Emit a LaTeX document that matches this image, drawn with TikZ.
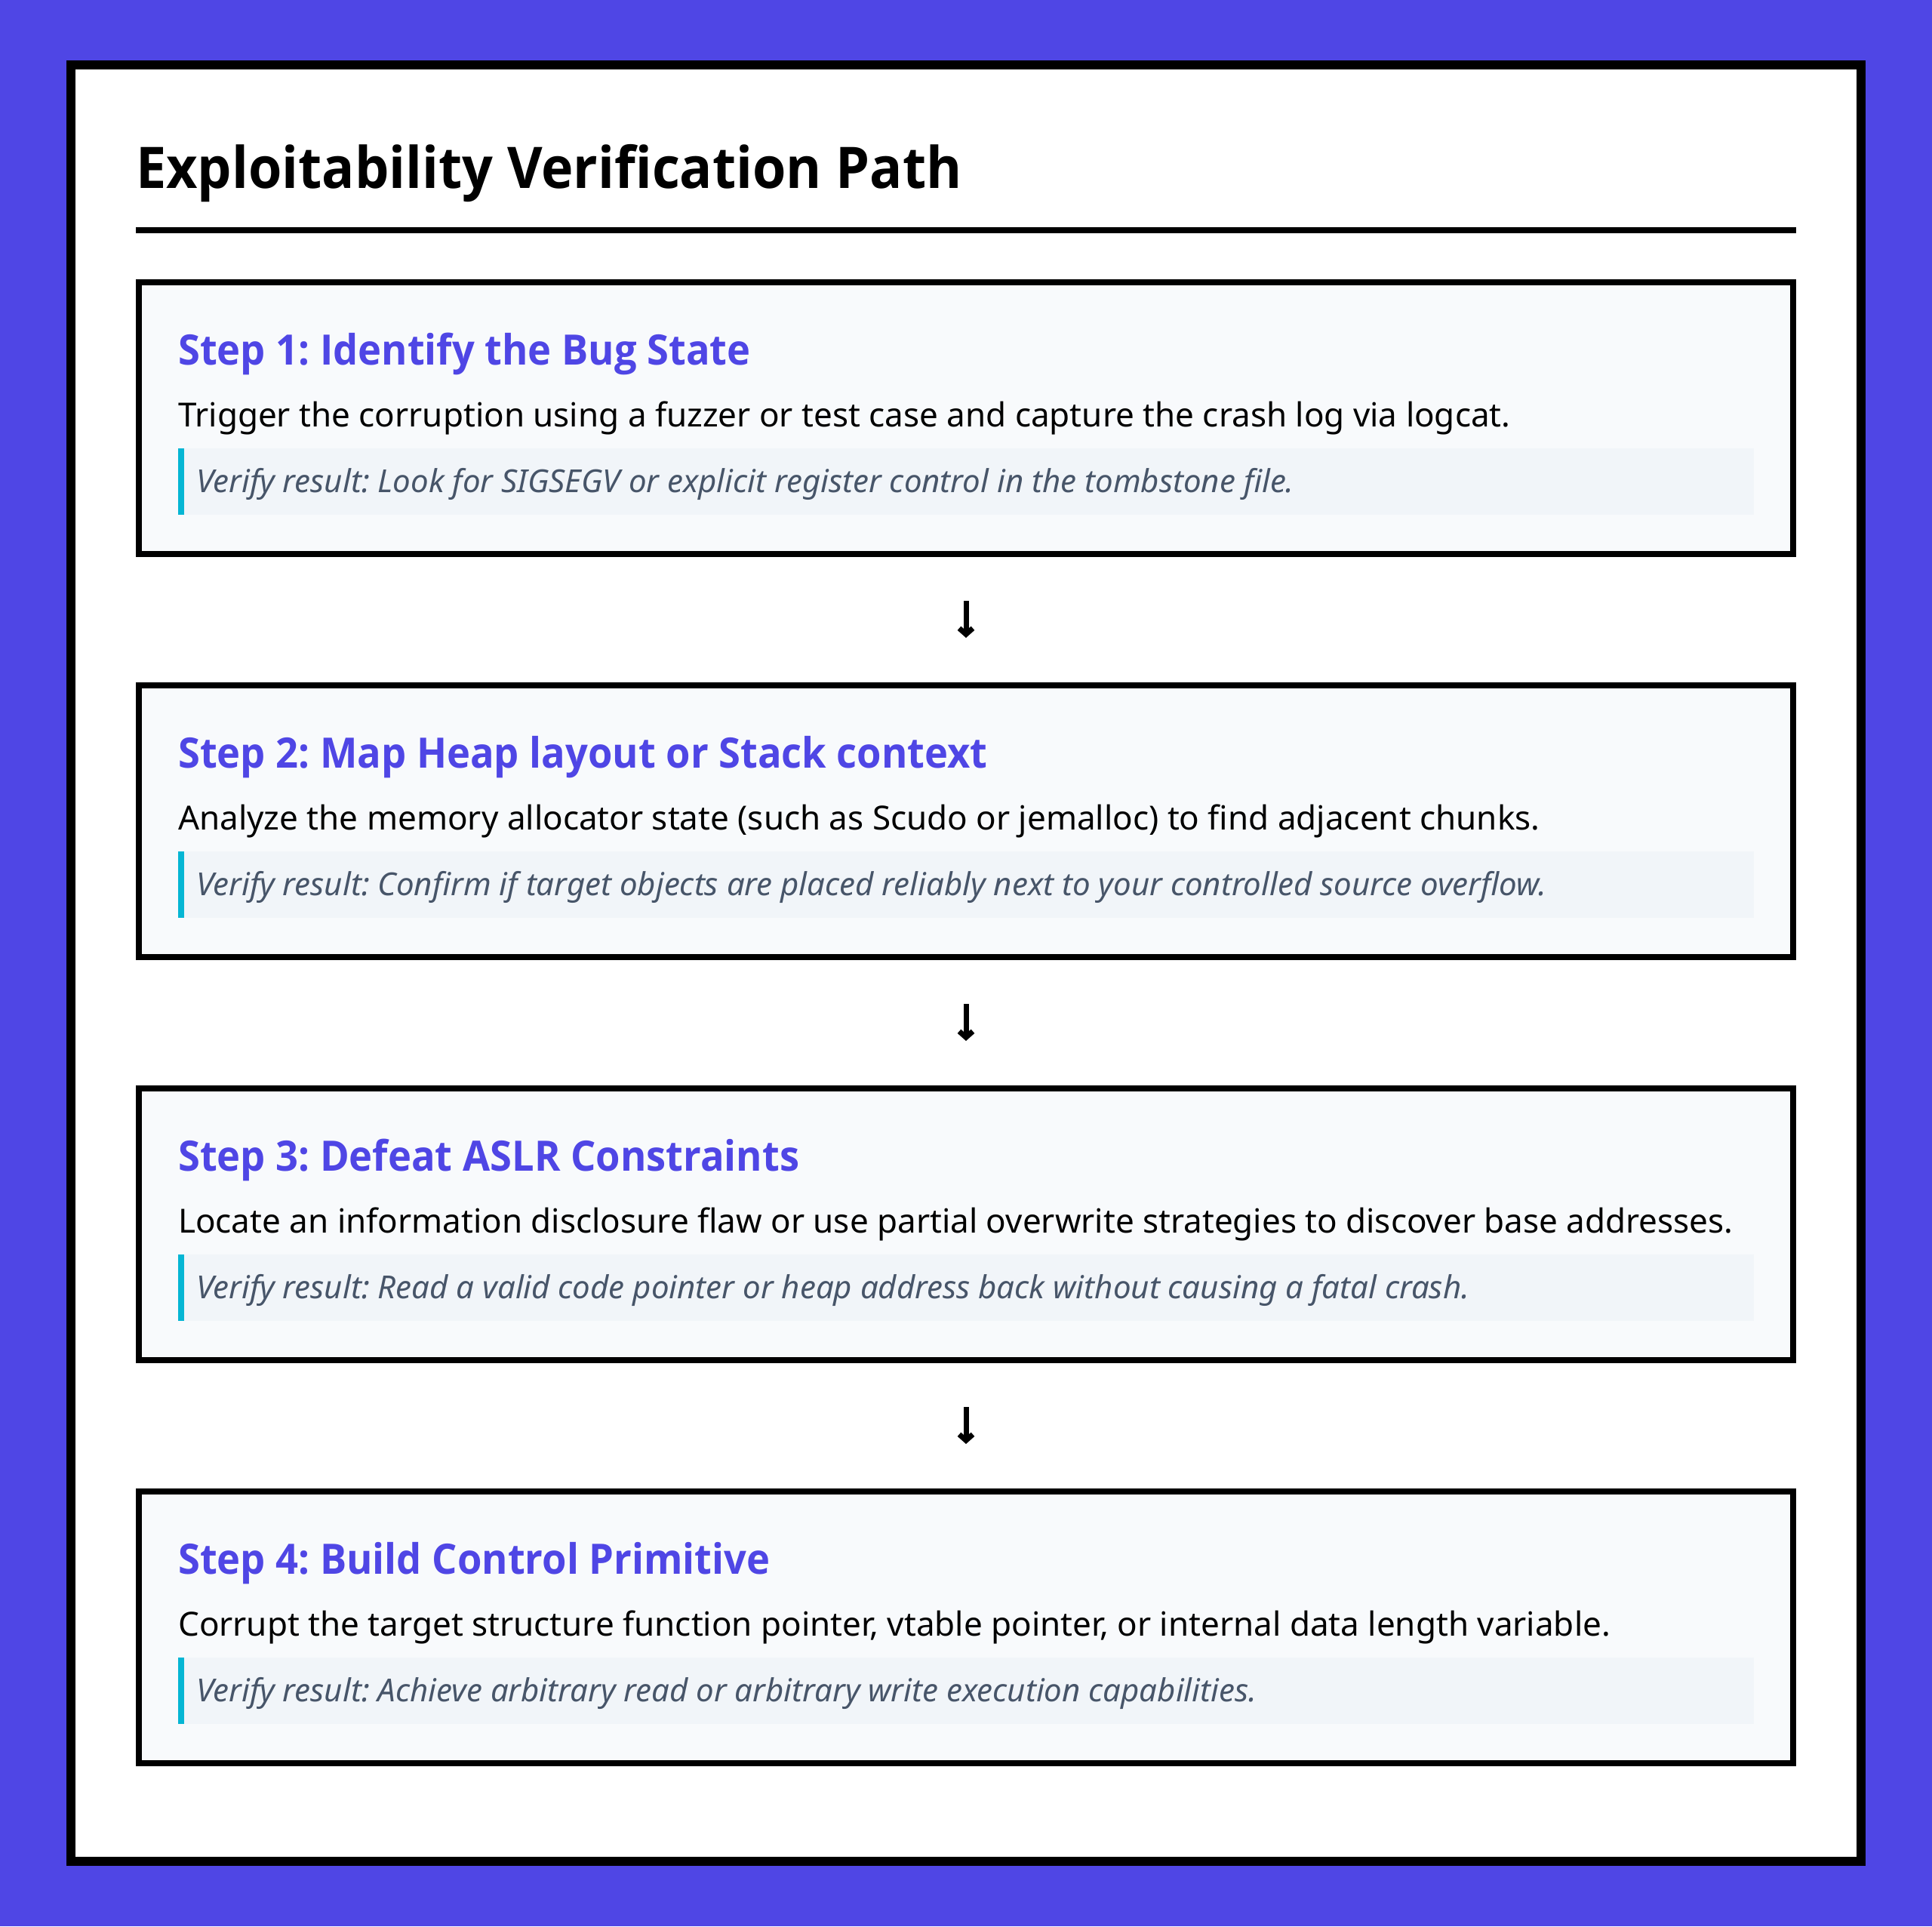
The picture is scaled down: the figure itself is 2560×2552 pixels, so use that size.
\documentclass[tikz,border=0pt]{standalone}
\usepackage{fontspec}
\setmainfont{Noto Sans}
\newfontfamily\headfont{Open Sans}[FakeStretch=0.945]
\usetikzlibrary{arrows.meta}
\frenchspacing

\definecolor{indigo}{HTML}{4F46E5}
\definecolor{boxfill}{HTML}{F8FAFC}
\definecolor{verifyfill}{HTML}{F1F5F9}
\definecolor{barcyan}{HTML}{06B6D4}
\definecolor{verifytext}{HTML}{475569}

\tikzset{
  stepbox/.style={draw=black, line width=8pt, fill=boxfill, minimum width=2192pt, minimum height=360pt, inner sep=0pt},
  verifybox/.style={fill=verifyfill, minimum width=2088pt, minimum height=88pt, inner sep=0pt},
  steptitle/.style={anchor=base west, inner sep=0pt, text=indigo, font=\headfont\fontsize{55.5}{60}\selectfont\bfseries},
  steptext/.style={anchor=base west, inner sep=0pt, font=\fontsize{44}{50}\selectfont},
  verify/.style={anchor=base west, inner sep=0pt, text=verifytext, font=\fontsize{42}{48}\selectfont\itshape},
  flow/.style={line width=7pt, -{Straight Barb[length=8pt,width=18pt]}, shorten <=58pt, shorten >=59pt}
}

\begin{document}
\begin{tikzpicture}[x=1pt, y=-1pt]
\useasboundingbox (0,0) rectangle (2560,2552);
\fill[indigo] (0,0) rectangle (2560,2552);
\fill[black] (88,80) rectangle (2472,2472);
\fill[white] (100,92) rectangle (2460,2460);

% Title
\node[anchor=base west, inner sep=0pt, font=\headfont\fontsize{76}{80}\selectfont\bfseries] (title) at (180,249) {Exploitability Verification Path};
\fill[black] (180,301) rectangle (2380,309);

% Step 1
\node[stepbox] (s1) at (1280,554) {};
\node[steptitle] (t1) at (236,483) {Step 1: Identify the Bug State};
\node[steptext] (d1) at (236,565) {Trigger the corruption using a fuzzer or test case and capture the crash log via logcat.};
\node[verifybox] (v1) at (1280,638) {};
\fill[barcyan] (v1.north west) rectangle ([xshift=8pt]v1.south west);
\node[verify] (r1) at (260,652) {Verify result: Look for SIGSEGV or explicit register control in the tombstone file.};

% Step 2
\node[stepbox] (s2) at (1280,1088) {};
\node[steptitle] (t2) at (236,1017) {Step 2: Map Heap layout or Stack context};
\node[steptext] (d2) at (236,1099) {Analyze the memory allocator state (such as Scudo or jemalloc) to find adjacent chunks.};
\node[verifybox] (v2) at (1280,1172) {};
\fill[barcyan] (v2.north west) rectangle ([xshift=8pt]v2.south west);
\node[verify] (r2) at (260,1186) {Verify result: Confirm if target objects are placed reliably next to your controlled source overflow.};

% Step 3
\node[stepbox] (s3) at (1280,1622) {};
\node[steptitle] (t3) at (236,1551) {Step 3: Defeat ASLR Constraints};
\node[steptext] (d3) at (236,1633) {Locate an information disclosure flaw or use partial overwrite strategies to discover base addresses.};
\node[verifybox] (v3) at (1280,1706) {};
\fill[barcyan] (v3.north west) rectangle ([xshift=8pt]v3.south west);
\node[verify] (r3) at (260,1720) {Verify result: Read a valid code pointer or heap address back without causing a fatal crash.};

% Step 4
\node[stepbox] (s4) at (1280,2156) {};
\node[steptitle] (t4) at (236,2085) {Step 4: Build Control Primitive};
\node[steptext] (d4) at (236,2167) {Corrupt the target structure function pointer, vtable pointer, or internal data length variable.};
\node[verifybox] (v4) at (1280,2240) {};
\fill[barcyan] (v4.north west) rectangle ([xshift=8pt]v4.south west);
\node[verify] (r4) at (260,2254) {Verify result: Achieve arbitrary read or arbitrary write execution capabilities.};

% arrows between steps
\draw[flow] (s1.south) -- (s2.north);
\draw[flow] (s2.south) -- (s3.north);
\draw[flow] (s3.south) -- (s4.north);

\end{tikzpicture}
\end{document}
